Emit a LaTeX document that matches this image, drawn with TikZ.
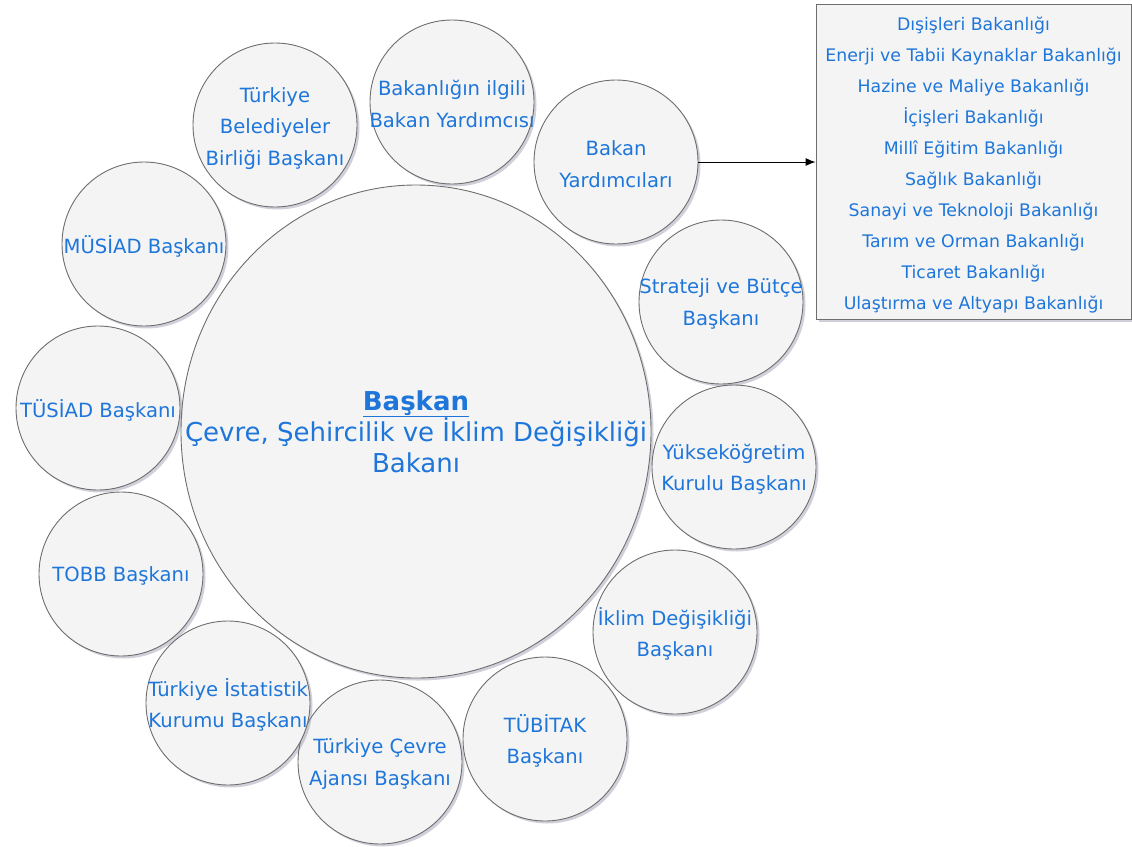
\documentclass[tikz,border=0pt]{standalone}
\usepackage{fontspec}
\setmainfont{DejaVu Sans}
\usetikzlibrary{shapes.geometric,shadows,arrows.meta}
\definecolor{txtblue}{RGB}{30,118,218}
\definecolor{fillgray}{RGB}{244,244,244}
\definecolor{edgegray}{RGB}{110,110,110}
\definecolor{shadowc}{RGB}{120,120,150}
\tikzset{
  shad/.style={drop shadow={shadow xshift=2.5pt,shadow yshift=-2.5pt,opacity=0.35,fill=shadowc}},
  small/.style={circle,draw=edgegray,line width=0.9pt,fill=fillgray,minimum size=164pt,inner sep=0pt,shad},
  smalltext/.style={text=txtblue,align=center,font=\fontsize{19.6}{31.5}\selectfont,inner sep=0pt,yshift=-2pt},
  big/.style={ellipse,draw=edgegray,line width=0.9pt,fill=fillgray,minimum width=470pt,minimum height=493pt,inner sep=0pt,shad},
  bigtext/.style={text=txtblue,align=center,font=\fontsize{26}{31}\selectfont,inner sep=0pt},
  listbox/.style={rectangle,draw=edgegray,line width=0.9pt,fill=fillgray,minimum width=315pt,minimum height=315pt,inner sep=0pt,shad},
  listtext/.style={text=txtblue,align=center,font=\fontsize{17.3}{31.1}\selectfont,inner sep=0pt},
  conn/.style={-{Latex[length=10pt,width=8pt]},line width=0.9pt,black}
}
\begin{document}
\begin{tikzpicture}[x=1pt,y=-1pt]
\useasboundingbox (0,0) rectangle (1132,846);
\node[big] (center) at (416,431.5) {};
\node[bigtext] (centertext) at (center.center) {\underline{\textbf{Başkan}}\\Çevre, Şehircilik ve İklim Değişikliği\\Bakanı};
\node[small] (tbb) at (275,125) {};
\node[smalltext,yshift=-1.5pt] (tbbt) at (tbb) {Türkiye\\Belediyeler\\Birliği Başkanı};
\node[small] (bby) at (452,102) {};
\node[smalltext] (bbyt) at (bby) {Bakanlığın ilgili\\Bakan Yardımcısı};
\node[small] (by) at (616,162) {};
\node[smalltext] (byt) at (by) {Bakan\\Yardımcıları};
\node[small] (sbb) at (721,302) {};
\node[smalltext] (sbbt) at (sbb) {Strateji ve Bütçe\\Başkanı};
\node[small] (yok) at (734,467) {};
\node[smalltext] (yokt) at (yok) {Yükseköğretim\\Kurulu Başkanı};
\node[small] (tubitak) at (545,739) {};
\node[smalltext] (tubitakt) at (tubitak) {TÜBİTAK\\Başkanı};
\node[small] (iklim) at (675,632) {};
\node[smalltext] (iklimt) at (iklim) {İklim Değişikliği\\Başkanı};
\node[small] (cevre) at (380,762) {};
\node[smalltext] (cevret) at (cevre) {Türkiye Çevre\\Ajansı Başkanı};
\node[small] (tuik) at (228,703) {};
\node[smalltext] (tuikt) at (tuik) {Türkiye İstatistik\\Kurumu Başkanı};
\node[small] (tobb) at (121,574) {};
\node[smalltext] (tobbt) at (tobb) {TOBB Başkanı};
\node[small] (tusiad) at (98,408) {};
\node[smalltext] (tusiadt) at (tusiad) {TÜSİAD Başkanı};
\node[small] (musiad) at (144,244) {};
\node[smalltext] (musiadt) at (musiad) {MÜSİAD Başkanı};
\node[listbox] (list) at (973.5,161.5) {};
\node[listtext] (listtxt) at (973.5,165) {Dışişleri Bakanlığı\\Enerji ve Tabii Kaynaklar Bakanlığı\\Hazine ve Maliye Bakanlığı\\İçişleri Bakanlığı\\Millî Eğitim Bakanlığı\\Sağlık Bakanlığı\\Sanayi ve Teknoloji Bakanlığı\\Tarım ve Orman Bakanlığı\\Ticaret Bakanlığı\\Ulaştırma ve Altyapı Bakanlığı};
\draw[conn] (by.east) -- (list.west |- by.east);
\end{tikzpicture}
\end{document}
